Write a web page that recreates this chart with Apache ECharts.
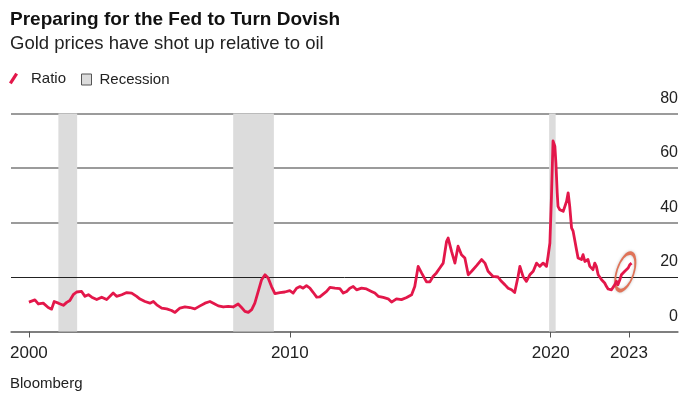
<!DOCTYPE html>
<html>
<head>
<meta charset="utf-8">
<script src="https://cdn.jsdelivr.net/npm/echarts@6/dist/echarts.min.js"></script>
<style>
html,body{margin:0;padding:0;background:#fff;}
#chart{width:700px;height:394px;}
</style>
</head>
<body>
<div id="chart"></div>
<script>
// Decimal years
var years = [2000.00, 2000.23, 2000.36, 2000.55, 2000.74, 2000.87, 2000.97, 2001.13, 2001.32, 2001.45, 2001.57, 2001.70, 2001.83, 2002.02, 2002.15, 2002.28, 2002.41, 2002.60, 2002.79, 2002.98, 2003.23, 2003.36, 2003.56, 2003.75, 2003.94, 2004.13, 2004.26, 2004.45, 2004.64, 2004.77, 2004.90, 2005.09, 2005.28, 2005.47, 2005.60, 2005.79, 2005.98, 2006.17, 2006.36, 2006.56, 2006.75, 2006.94, 2007.07, 2007.26, 2007.45, 2007.64, 2007.83, 2008.02, 2008.15, 2008.28, 2008.41, 2008.54, 2008.66, 2008.79, 2008.92, 2009.05, 2009.17, 2009.30, 2009.43, 2009.62, 2009.81, 2010.00, 2010.13, 2010.26, 2010.39, 2010.51, 2010.64, 2010.77, 2010.90, 2011.03, 2011.15, 2011.41, 2011.54, 2011.73, 2011.92, 2012.05, 2012.18, 2012.30, 2012.43, 2012.56, 2012.75, 2012.94, 2013.13, 2013.26, 2013.39, 2013.58, 2013.77, 2013.90, 2014.09, 2014.28, 2014.48, 2014.67, 2014.79, 2014.92, 2015.05, 2015.11, 2015.24, 2015.37, 2015.49, 2015.62, 2015.75, 2015.88, 2016.01, 2016.07, 2016.20, 2016.33, 2016.45, 2016.58, 2016.71, 2016.84, 2016.97, 2017.16, 2017.35, 2017.48, 2017.60, 2017.79, 2017.98, 2018.11, 2018.24, 2018.37, 2018.50, 2018.62, 2018.75, 2018.82, 2018.94, 2019.07, 2019.20, 2019.33, 2019.46, 2019.58, 2019.71, 2019.84, 2019.90, 2019.97, 2020.03, 2020.09, 2020.16, 2020.20, 2020.25, 2020.28, 2020.35, 2020.41, 2020.48, 2020.54, 2020.61, 2020.67, 2020.73, 2020.80, 2020.86, 2020.92, 2020.99, 2021.05, 2021.12, 2021.18, 2021.24, 2021.31, 2021.37, 2021.43, 2021.50, 2021.56, 2021.62, 2021.69, 2021.75, 2021.82, 2021.88, 2021.95, 2022.01, 2022.07, 2022.14, 2022.20, 2022.26, 2022.33, 2022.39, 2022.46, 2022.52, 2022.58, 2022.65, 2022.71, 2022.77, 2022.84, 2022.90, 2022.97, 2023.03, 2023.10];

// Gold / oil ratio
var ratio = [10.8, 11.6, 10.1, 10.4, 8.8, 8.2, 11.0, 10.4, 9.6, 10.7, 11.4, 13.5, 14.5, 14.7, 12.9, 13.5, 12.6, 11.7, 12.6, 11.7, 14.1, 12.9, 13.5, 14.3, 14.1, 12.9, 11.9, 11.0, 10.4, 11.0, 9.8, 8.6, 8.3, 7.7, 7.0, 8.6, 9.0, 8.8, 8.3, 9.4, 10.4, 11.0, 10.4, 9.4, 9.0, 9.2, 9.0, 10.1, 8.8, 7.4, 7.0, 8.0, 10.4, 14.7, 19.0, 20.8, 19.6, 16.5, 13.9, 14.3, 14.5, 15.0, 14.1, 15.9, 16.5, 15.9, 16.8, 15.9, 14.3, 12.6, 12.7, 14.7, 16.2, 15.9, 15.7, 14.1, 14.7, 15.9, 16.5, 15.3, 15.9, 15.6, 14.7, 14.1, 12.9, 12.5, 12.0, 10.8, 12.0, 11.7, 12.5, 13.5, 16.5, 23.9, 21.5, 22.1, 18.2, 18.2, 20.2, 21.5, 23.3, 25.1, 33.1, 34.3, 29.4, 25.1, 31.3, 28.2, 27.0, 20.8, 22.1, 24.2, 26.4, 25.1, 22.1, 20.2, 20.0, 18.4, 17.2, 15.9, 15.3, 14.3, 20.2, 23.9, 20.2, 18.4, 20.8, 22.1, 25.1, 23.9, 25.1, 23.9, 27.6, 32.5, 49.6, 69.9, 68.0, 61.9, 50.9, 45.9, 44.7, 45.4, 44.1, 44.7, 47.8, 50.9, 45.9, 38.0, 36.8, 33.7, 30.0, 27.0, 27.0, 26.4, 28.2, 25.7, 25.1, 26.4, 23.9, 24.2, 22.7, 25.1, 23.9, 20.8, 20.2, 19.0, 18.4, 17.8, 16.5, 15.6, 15.1, 15.3, 15.9, 17.2, 18.4, 17.2, 19.0, 20.8, 21.5, 22.1, 22.7, 23.3, 24.5, 25.1];

// Recession periods [start, end] in decimal years
var recessionStart = [2001.13, 2007.83, 2019.94];
var recessionEnd = [2001.85, 2009.39, 2020.19];

// Axis ticks
var xTicks = [2000, 2010, 2020, 2023];
var yTicks = [0, 20, 40, 60, 80];

// Highlighted latest move (annotation centre)
var highlight = [2022.86, 21.9];

var FONT = 'Liberation Sans, Arial, sans-serif';
var RED = '#e3174a';

var lineData = years.map(function (y, i) { return [y, ratio[i]]; });
var areas = recessionStart.map(function (s, i) {
  return [{ xAxis: s }, { xAxis: recessionEnd[i] }];
});

var chart = echarts.init(document.getElementById('chart'), null, { renderer: 'canvas' });
chart.setOption({
  animation: false,
  backgroundColor: '#ffffff',
  title: [
    { text: 'Preparing for the Fed to Turn Dovish', left: 10, top: 10, padding: 0,
      textStyle: { fontFamily: FONT, fontSize: 19, fontWeight: 'bold', color: '#111' } },
    { text: 'Gold prices have shot up relative to oil', left: 10, top: 34, padding: 0,
      textStyle: { fontFamily: FONT, fontSize: 18.5, fontWeight: 'normal', color: '#222' } },
    { text: 'Bloomberg', left: 10, top: 376, padding: 0,
      textStyle: { fontFamily: FONT, fontSize: 15, fontWeight: 'normal', color: '#222' } }
  ],
  legend: [
    { data: [{ name: 'Ratio', icon: 'path://M0,11 L7,0 L10,2 L3,13 Z' }],
      left: 9, top: 71, padding: 0, itemWidth: 9, itemHeight: 13, selectedMode: false,
      textStyle: { fontFamily: FONT, fontSize: 15, color: '#222', padding: [0, 0, 0, 8] } },
    { data: [{ name: 'Recession', icon: 'rect',
               itemStyle: { color: '#dcdcdc', borderColor: '#555', borderWidth: 1 } }],
      left: 81, top: 72, padding: 0, itemWidth: 10, itemHeight: 11, selectedMode: false,
      textStyle: { fontFamily: FONT, fontSize: 15, color: '#222', padding: [0, 0, 0, 3] } }
  ],
  grid: { left: 11, right: 22, top: 113.5, bottom: 62.5, containLabel: false },
  xAxis: {
    type: 'value',
    min: 1999.314,
    max: 2024.88,
    splitLine: { show: false },
    axisLine: { show: true, lineStyle: { color: '#777', width: 1.5 } },
    axisTick: { show: true, customValues: xTicks, length: 6, lineStyle: { color: '#555', width: 1 } },
    axisLabel: { show: true, customValues: xTicks, margin: 13,
      fontFamily: FONT, fontSize: 17, color: '#222',
      formatter: function (v) { return String(Math.round(v)); } }
  },
  yAxis: {
    type: 'value',
    position: 'right',
    min: 0,
    max: 80,
    interval: 20,
    axisLine: { show: false },
    axisTick: { show: false },
    axisLabel: { inside: true, margin: 0, fontFamily: FONT, fontSize: 16, color: '#222',
      verticalAlign: 'bottom', padding: [0, 0, 7, 0] },
    splitLine: { show: true, lineStyle: {
      color: ['#7a7a7a', 'rgba(0,0,0,0)', '#7a7a7a', '#7a7a7a', '#7a7a7a'], width: 1.5 } }
  },
  series: [
    {
      name: 'Recession',
      type: 'line',
      data: [],
      z: 1,
      itemStyle: { color: '#dcdcdc' },
      markArea: { silent: true, itemStyle: { color: '#dcdcdc', opacity: 1 }, data: areas },
      markLine: { silent: true, symbol: ['none', 'none'], label: { show: false },
        lineStyle: { color: '#222', width: 1, type: 'solid' },
        data: [{ yAxis: yTicks[1] }] }
    },
    {
      name: 'Ratio',
      type: 'line',
      data: lineData,
      z: 5,
      showSymbol: false,
      symbol: 'none',
      itemStyle: { color: RED },
      lineStyle: { color: RED, width: 2.8, join: 'round' },
      markPoint: {
        silent: true,
        symbol: 'circle',
        symbolSize: [17, 39],
        symbolRotate: -18,
        label: { show: false },
        itemStyle: { color: 'rgba(255,255,255,0)', borderColor: '#e07358', borderWidth: 2.5,
          shadowColor: 'rgba(0,0,0,0.25)', shadowBlur: 3 },
        data: [{ coord: highlight }]
      }
    }
  ]
});
</script>
</body>
</html>
